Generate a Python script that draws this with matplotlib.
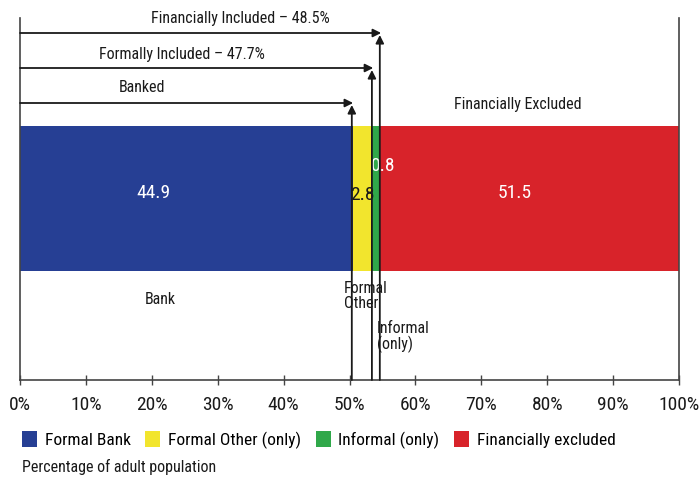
import matplotlib.pyplot as plt
from matplotlib import font_manager as fm
from matplotlib.patches import Patch

# pick a condensed sans if one is around
fonts = fm.fontManager.ttflist
names = {f.name for f in fonts}
stretch = 'normal'
if 'Liberation Sans Narrow' in names:
    family = 'Liberation Sans Narrow'
elif 'Roboto Condensed' in names:
    family = 'Roboto Condensed'
else:
    family = 'DejaVu Sans'
    if any(f.name == 'DejaVu Sans' and f.stretch in ('condensed', 'semi-condensed', 600, 300) for f in fonts):
        stretch = 'condensed'
plt.rcParams['font.family'] = [family, 'DejaVu Sans']
plt.rcParams['font.stretch'] = stretch

categories = ['Formal Bank', 'Formal Other (only)', 'Informal (only)', 'Financially excluded']
labels = ['44.9', '2.8', '0.8', '51.5']
widths = [50.6, 2.8, 1.2, 45.4]   # bar widths as drawn
colors = ['#263f94', '#f2e52d', '#30a84a', '#d8232a']
label_colors = ['white', '#1a1a1a', 'white', 'white']

brackets = ['Banked', 'Formally Included \u2013 47.7%', 'Financially Included \u2013 48.5%']

ink = '#1a1a1a'
fig = plt.figure(figsize=(6.99, 4.78), dpi=100)
ax = fig.add_axes([20 / 699, (478 - 380) / 478, 659 / 699, 362 / 478])
ax.set_xlim(0, 100)
ax.set_ylim(380, 18)

left = 0
ends = []
for w, c in zip(widths, colors):
    ax.barh(198, w, left=left, height=145, color=c, edgecolor='none')
    left += w
    ends.append(left)

# value labels
ax.text(widths[0] * 0.4, 193, labels[0], color=label_colors[0], ha='center', va='center', fontsize=14)
ax.text(ends[0] + widths[1] / 2, 195, labels[1], color=label_colors[1], ha='center', va='center', fontsize=14)
ax.text(ends[1] - 0.1, 166, labels[2], color=label_colors[2], ha='left', va='center', fontsize=14)
ax.text(ends[2] + widths[3] * 0.45, 193, labels[3], color=label_colors[3], ha='center', va='center', fontsize=14)

# bracket arrows
arrow_y = [103, 68, 33]
text_y = [88, 55, 19]
text_x = [18.5, 24.5, 33.5]
xs = [ends[0] - 0.25, ends[1], ends[2]]
for name, x, y, ty, tx in zip(brackets, xs, arrow_y, text_y, text_x):
    ax.annotate('', xy=(x + 0.2, y), xytext=(0, y),
                arrowprops=dict(arrowstyle='-|>', color=ink, lw=1.3, mutation_scale=12,
                                shrinkA=0, shrinkB=0))
    ax.annotate('', xy=(x, y + 2), xytext=(x, 380),
                arrowprops=dict(arrowstyle='-|>', color=ink, lw=1.3, mutation_scale=12,
                                shrinkA=0, shrinkB=0))
    ax.text(tx, ty, name, ha='center', va='center', fontsize=11.5, color=ink)

ax.text(75.5, 105, 'Financially Excluded', ha='center', va='center', fontsize=11.5, color=ink)
ax.text(21.3, 300, 'Bank', ha='center', va='center', fontsize=11.5, color=ink)
ax.text(49.2, 296, 'Formal\nOther', ha='left', va='center', fontsize=11.5, color=ink, linespacing=0.95)
ax.text(54.1, 337, 'Informal\n(only)', ha='left', va='center', fontsize=11.5, color=ink, linespacing=0.95)

# frame: left/right lines and bottom axis
ax.spines['top'].set_visible(False)
for s in ['left', 'right', 'bottom']:
    ax.spines[s].set_color('#444444')
    ax.spines[s].set_linewidth(1.2)
ax.set_yticks([])
ax.set_xticks(range(0, 101, 10))
ax.set_xticklabels([f'{v}%' for v in range(0, 101, 10)], fontsize=14, color=ink)
ax.tick_params(axis='x', direction='inout', length=7, width=1, color='#444444', pad=8)

handles = [Patch(facecolor=c, edgecolor='none') for c in colors]
fig.legend(handles, categories, loc='lower left', bbox_to_anchor=(22 / 699, (478 - 449) / 478),
           ncol=4, frameon=False, fontsize=12.5, handlelength=0.85, handleheight=1.05,
           handletextpad=0.45, columnspacing=0.85, borderaxespad=0, borderpad=0)
fig.text(22 / 699, 1 - 467 / 478, 'Percentage of adult population', ha='left', va='center',
         fontsize=11.5, color=ink)

fig.savefig('out.png', dpi=100)
